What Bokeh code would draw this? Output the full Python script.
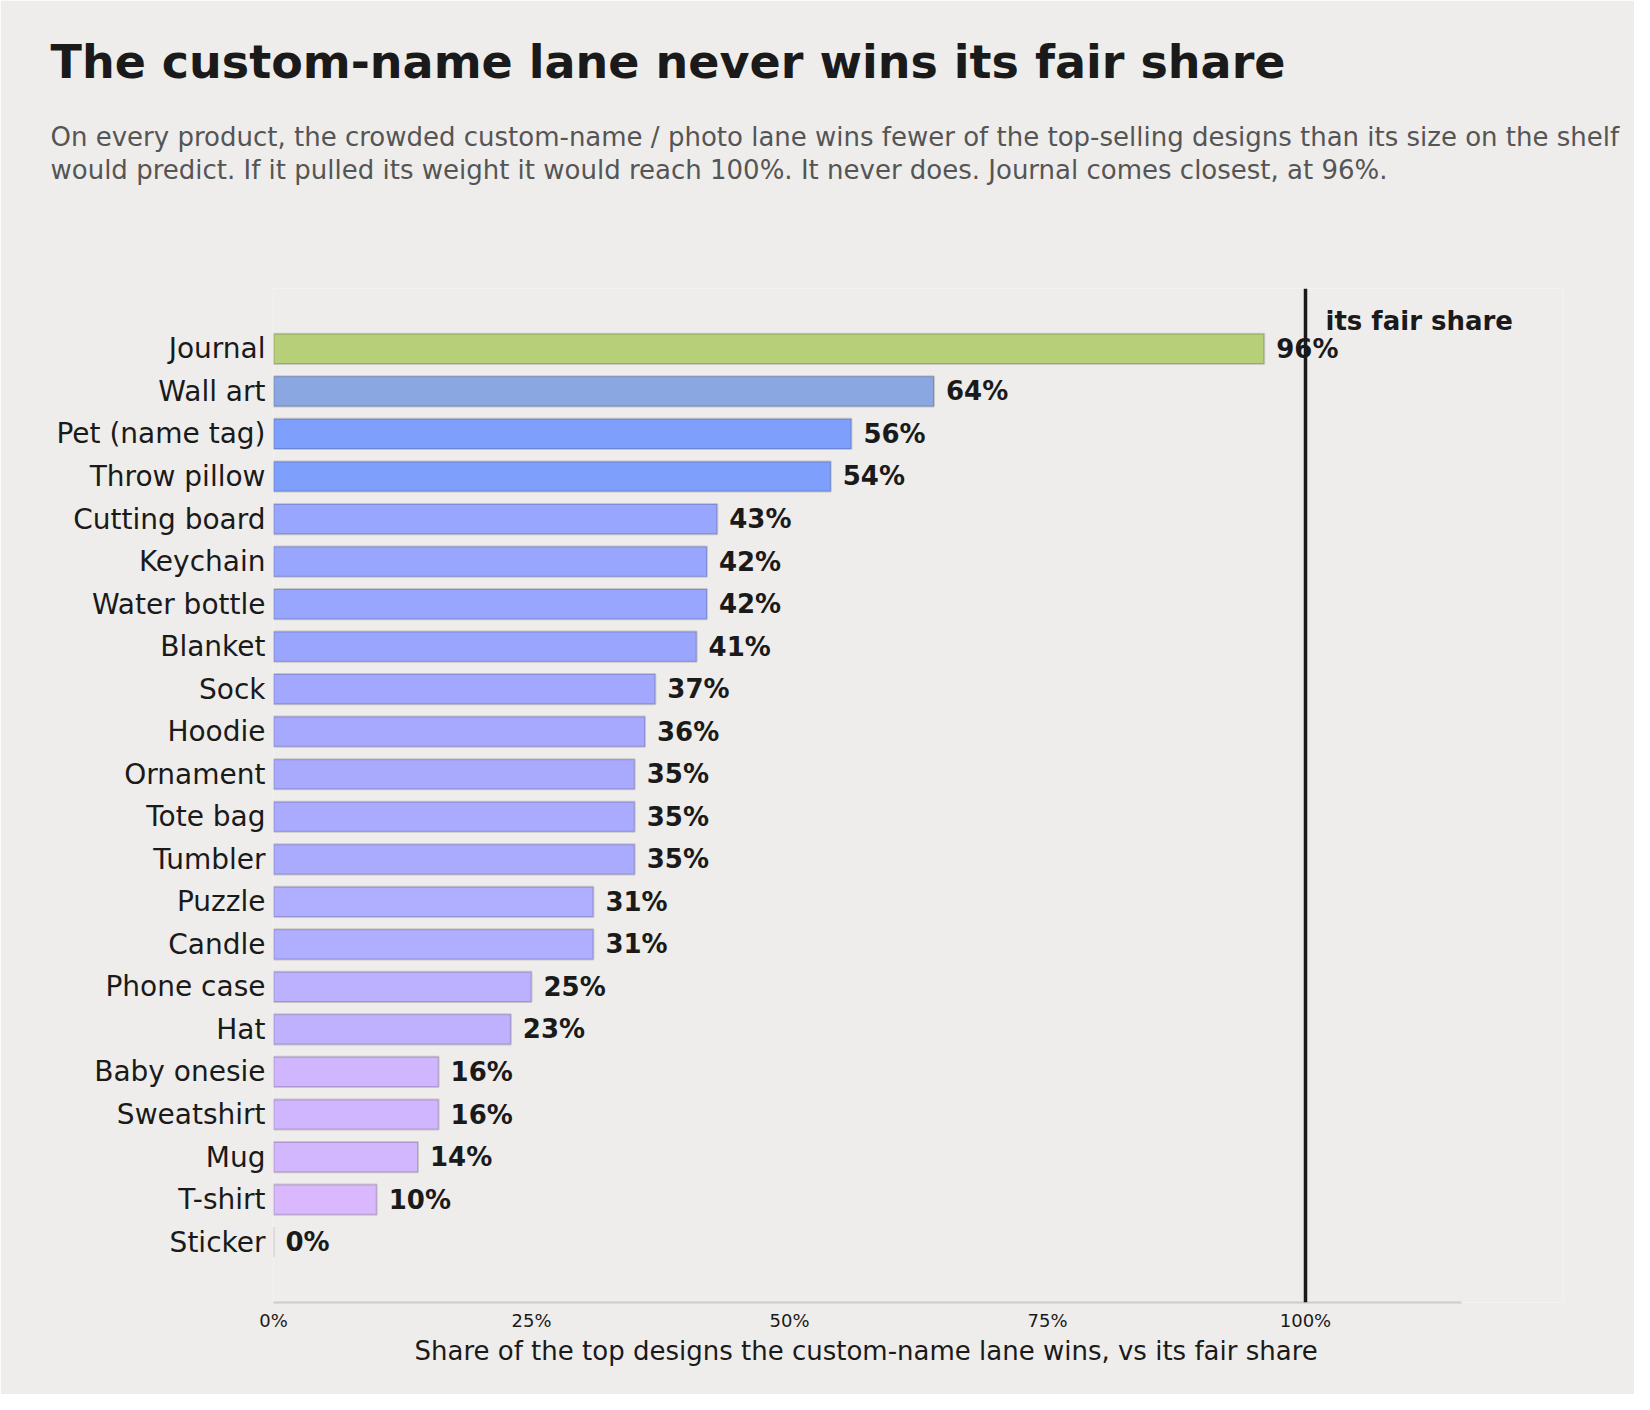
from bokeh.plotting import figure
from bokeh.models import (ColumnDataSource, FactorRange, Range1d, Span, Title,
                          FixedTicker, NumeralTickFormatter)
from bokeh.core.properties import value
from bokeh.embed import file_html
from bokeh.resources import INLINE

# ---- data (top to bottom) ----
products = ["Journal", "Wall art", "Pet (name tag)", "Throw pillow", "Cutting board",
            "Keychain", "Water bottle", "Blanket", "Sock", "Hoodie", "Ornament",
            "Tote bag", "Tumbler", "Puzzle", "Candle", "Phone case", "Hat",
            "Baby onesie", "Sweatshirt", "Mug", "T-shirt", "Sticker"]
share_pct = [96, 64, 56, 54, 43, 42, 42, 41, 37, 36, 35, 35, 35, 31, 31, 25, 23,
             16, 16, 14, 10, 0]
x_ticks = [0, 0.25, 0.5, 0.75, 1.0]
x_axis_end = 1.1512
fair_share = 1.0

title_text = "The custom-name lane never wins its fair share"
subtitle_lines = [
    "On every product, the crowded custom-name / photo lane wins fewer of the top-selling designs than its size on the shelf",
    "would predict. If it pulled its weight it would reach 100%. It never does. Journal comes closest, at 96%.",
]
x_label = "Share of the top designs the custom-name lane wins, vs its fair share"
fair_label = "its fair share"

# ---- styles ----
bar_colors = ["#b8cf7a", "#8aa7e2", "#7f9ffc", "#7f9ffc", "#98a6fe", "#99a6fe",
              "#99a6fe", "#9aa5fe", "#a3a8fe", "#a6a9fe", "#a9aafe", "#aaaafe",
              "#aaaafe", "#b0aefe", "#b0aefe", "#bcb1fe", "#c0b1fe", "#cfb6fe",
              "#d0b6fe", "#d2b6fe", "#d9b8fe", "#dcbafe"]
BG = "#eeedeb"
INK = "#1a1a1a"
FONT = "DejaVu Sans"

src = ColumnDataSource(dict(
    product=products,
    share=[v / 100 for v in share_pct],
    label=[f"{v}%" for v in share_pct],
    color=bar_colors,
))

# the frame runs a bit past the axis end so the "fair share" note is not clipped
p = figure(width=1634, height=1394, output_backend="svg", toolbar_location=None,
           y_range=FactorRange(factors=products[::-1], range_padding=0.92,
                               range_padding_units="absolute"),
           x_range=Range1d(0, 1.25),
           min_border_left=273, min_border_right=71, min_border_top=288,
           min_border_bottom=92)
p.background_fill_color = BG
p.border_fill_color = BG
p.outline_line_color = None
p.xgrid.grid_line_color = None
p.ygrid.grid_line_color = None

p.hbar(y="product", right="share", left=0, height=0.71, source=src,
       fill_color="color", line_color="#000000", line_alpha=0.16, line_width=2)

p.text(x="share", y="product", text="label", source=src, x_offset=12,
       text_baseline="middle", text_align="left", text_font=value(FONT),
       text_font_size="26px", text_font_style="bold", text_color=INK)

p.add_layout(Span(location=fair_share, dimension="height", line_color=INK,
                  line_width=3.5))
p.text(x=[fair_share], y=[products[0]], text=[fair_label], x_offset=20, y_offset=-28,
       text_baseline="alphabetic", text_align="left", text_font=value(FONT),
       text_font_size="26px", text_font_style="bold", text_color=INK)

# axes
xa = p.xaxis[0]
xa.bounds = (0, x_axis_end)
xa.ticker = FixedTicker(ticks=x_ticks)
xa.formatter = NumeralTickFormatter(format="0%")
xa.axis_line_color = "#cccccc"
xa.axis_line_width = 2
xa.major_tick_line_color = None
xa.minor_tick_line_color = None
xa.major_tick_out = 0
xa.major_tick_in = 0
xa.major_label_standoff = 7
xa.major_label_text_font = FONT
xa.major_label_text_font_size = "18px"
xa.major_label_text_color = INK

ya = p.yaxis[0]
ya.axis_line_color = None
ya.major_tick_line_color = None
ya.minor_tick_line_color = None
ya.major_tick_out = 0
ya.major_tick_in = 0
ya.major_label_standoff = 8
ya.major_label_text_font = FONT
ya.major_label_text_font_size = "28px"
ya.major_label_text_color = INK

# x-axis title, centred under the axis line (not the wider frame)
p.add_layout(Title(text=x_label, align="left", offset=141, standoff=5,
                   vertical_align="top", text_font=FONT, text_font_size="26px",
                   text_font_style="normal", text_color=INK), "below")

# titles: stacked outward from the frame (first added = closest)
p.add_layout(Title(text=" ", text_font=FONT, text_font_size="26px", standoff=72), "above")
p.add_layout(Title(text=subtitle_lines[1], align="left", offset=-223, standoff=0,
                   vertical_align="bottom", text_font=FONT, text_font_size="26px",
                   text_font_style="normal", text_color="#555555"), "above")
p.add_layout(Title(text=subtitle_lines[0], align="left", offset=-223, standoff=2,
                   vertical_align="bottom", text_font=FONT, text_font_size="26px",
                   text_font_style="normal", text_color="#555555"), "above")
p.add_layout(Title(text=title_text, align="left", offset=-223, standoff=60,
                   vertical_align="bottom", text_font=FONT, text_font_size="46px",
                   text_font_style="bold", text_color=INK), "above")

open("out.html", "w").write(file_html(p, INLINE))
